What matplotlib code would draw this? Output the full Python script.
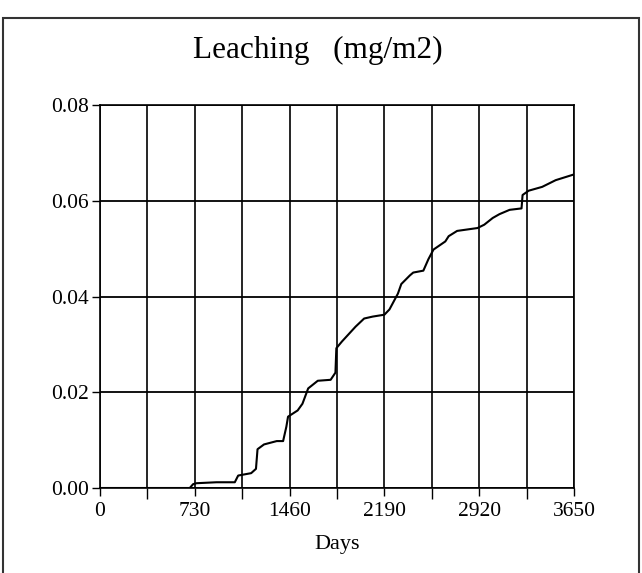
import matplotlib
matplotlib.use("Agg")
import matplotlib.pyplot as plt
from matplotlib.patches import Rectangle

# cumulative leaching over ten years
days = [0, 691, 717, 743, 897, 1038, 1064, 1164, 1201, 1213, 1263, 1361, 1410,
        1435, 1448, 1522, 1559, 1603, 1677, 1776, 1813, 1820, 1863, 1968, 2034,
        2099, 2190, 2229, 2294, 2320, 2386, 2412, 2490, 2529, 2568, 2659, 2685,
        2750, 2907, 2959, 3024, 3076, 3154, 3246, 3254, 3301, 3405, 3509, 3650]
leaching = [0, 0, 0.0008, 0.0010, 0.0012, 0.0012, 0.0026, 0.0031, 0.0040,
            0.0081, 0.0091, 0.0098, 0.0098, 0.0128, 0.0149, 0.0162, 0.0176,
            0.0208, 0.0224, 0.0226, 0.0241, 0.0292, 0.0306, 0.0337, 0.0354,
            0.0358, 0.0362, 0.0373, 0.0406, 0.0426, 0.0444, 0.0450, 0.0454,
            0.0478, 0.0498, 0.0515, 0.0526, 0.0537, 0.0543, 0.0550, 0.0564,
            0.0572, 0.0581, 0.0584, 0.0612, 0.0621, 0.0629, 0.0643, 0.0655]

x_labels = [0, 730, 1460, 2190, 2920, 3650]
x_grid = list(range(0, 3651, 365))
y_ticks = [0.00, 0.02, 0.04, 0.06, 0.08]

plt.rcParams['font.family'] = ['Liberation Serif', 'DejaVu Serif']

fig = plt.figure(figsize=(6.42, 5.73), dpi=100)
ax = fig.add_axes([100 / 642, 1 - 488 / 573, 474 / 642, 383 / 573])

ax.plot(days, leaching, color='black', lw=1.5)

ax.set_xlim(0, 3650)
ax.set_ylim(0, 0.08)
ax.set_xticks(x_grid, minor=True)
ax.set_xticks(x_labels)
ax.set_xticklabels([str(v) for v in x_labels])
ax.set_yticks(y_ticks)
ax.set_yticklabels(['%.2f' % v for v in y_ticks])
ax.tick_params(axis='both', which='both', direction='out', length=6,
               width=1.0, color='black', labelsize=15.5, pad=2)
ax.tick_params(axis='x', which='both', pad=4)
ax.tick_params(axis='x', which='minor', length=8)

for xv in x_grid:
    ax.axvline(xv, color='black', lw=1.2, zorder=0)
for yv in y_ticks:
    ax.axhline(yv, color='black', lw=1.3, zorder=0)
for s in ax.spines.values():
    s.set_linewidth(1.2)

ax.set_xlabel('Days', fontsize=16, labelpad=10)
fig.text(0.495, 1 - 50 / 573, 'Leaching   (mg/m2)', ha='center', va='center',
         fontsize=22.5)

# frame around the whole chart
fig.patches.append(Rectangle((3 / 642, -0.01), 636 / 642, 1 - 18 / 573 + 0.01,
                             transform=fig.transFigure, fill=False,
                             edgecolor='#333333', lw=1.5))

fig.savefig('out.png', dpi=100)
